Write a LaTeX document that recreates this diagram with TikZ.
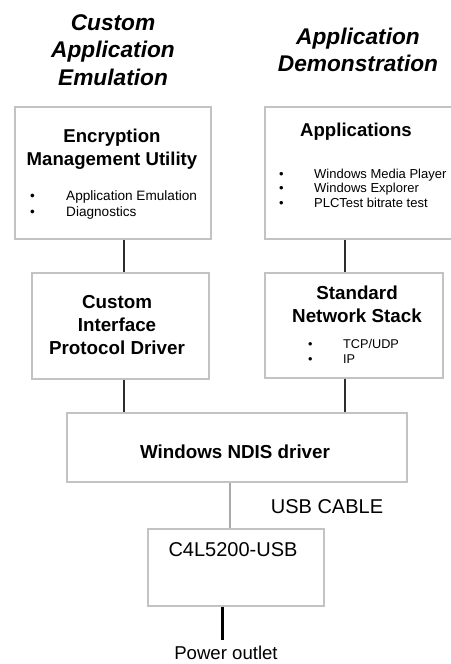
\documentclass[tikz,border=0pt]{standalone}
\usepackage{fontspec}
\setmainfont{Liberation Sans}
\usetikzlibrary{positioning,calc}

\definecolor{boxgray}{RGB}{195,195,195}
\definecolor{linkgray}{RGB}{45,45,45}
\definecolor{cablegray}{RGB}{170,170,170}

\tikzset{
    layer/.style={rectangle, draw=boxgray, line width=1.2pt, inner sep=0pt},
    link/.style={draw=linkgray, line width=1.3pt},
    heading/.style={font=\fontsize{22.7}{27.5}\selectfont\bfseries\itshape, align=center, inner sep=0pt},
    boxtitle/.style={font=\fontsize{18.6}{23.5}\selectfont\bfseries, align=center, inner sep=0pt},
    items/.style={anchor=west, align=left, inner sep=0pt},
    plain/.style={font=\fontsize{20}{24}\selectfont, inner sep=0pt}
}
\newcommand{\itemdot}[1]{\makebox[#1][l]{\textbullet}}

\begin{document}
\begin{tikzpicture}[x=1pt, y=-1pt]
            \useasboundingbox (0,0) rectangle (450,664);
            % Column headings
            \node[heading] (emuhead) at (113,50) {Custom\\Application\\Emulation};
            \node[heading] (demohead) at (358,50) {Application\\Demonstration};
            % Upper layer
            \node[layer, minimum width=196pt, minimum height=132pt] (emu) at (113,173) {};
            \node[layer, minimum width=192pt, minimum height=132pt] (apps) at (361,173) {};
            \node[boxtitle] (emutitle) at (112,149) {Encryption\\Management Utility};
            \node[items, font=\fontsize{13.6}{16}\selectfont] (emulist) at (30,205)
                {\itemdot{36pt}Application Emulation\\\itemdot{36pt}Diagnostics};
            \node[boxtitle] (appstitle) at (356,132) {Applications};
            \node[items, font=\fontsize{13}{14.5}\selectfont] (appslist) at (279,188)
                {\itemdot{35pt}Windows Media Player\\\itemdot{35pt}Windows Explorer\\\itemdot{35pt}PLCTest bitrate test};
            % Driver layer
            \node[layer, minimum width=177pt, minimum height=106pt] (cipd) at (120.5,326) {};
            \node[layer, minimum width=178pt, minimum height=105pt] (stack) at (354,325.5) {};
            \node[boxtitle, font=\fontsize{18.8}{23}\selectfont\bfseries] (cipdtitle) at (117,325) {Custom\\Interface\\Protocol Driver};
            \node[boxtitle, font=\fontsize{18.8}{23}\selectfont\bfseries] (stacktitle) at (357,304) {Standard\\Network Stack};
            \node[items, font=\fontsize{12.7}{15}\selectfont] (stacklist) at (308,351.5)
                {\itemdot{35pt}TCP/UDP\\\itemdot{35pt}IP};
            % NDIS and device
            \node[layer, minimum width=340pt, minimum height=69pt] (ndis) at (237,447.5) {};
            \node[boxtitle, font=\fontsize{18.8}{23}\selectfont\bfseries] (ndistitle) at (235,452) {Windows NDIS driver};
            \node[layer, minimum width=176pt, minimum height=77pt] (usb) at (236,567.5) {};
            \node[plain] (usbtitle) at (233,550) {C4L5200-USB};
            \node[plain] (cablelabel) at (327,507) {USB CABLE};
            \node[plain, font=\fontsize{18.6}{22}\selectfont] (power) at (226,653) {Power outlet};

            \coordinate (lbus) at (124,0);
            \coordinate (rbus) at (345,0);
            \coordinate (cable) at (230,0);
            \coordinate (outlet) at (222,640);

            \draw[link] (lbus |- emu.south) -- (lbus |- cipd.north);
            \draw[link] (lbus |- cipd.south) -- (lbus |- ndis.north);
            \draw[link] (rbus |- apps.south) -- (rbus |- stack.north);
            \draw[link] (rbus |- stack.south) -- (rbus |- ndis.north);

            \draw[draw=cablegray, line width=1.3pt] (cable |- ndis.south) -- (cable |- usb.north);
            \draw[line width=3pt] (outlet |- usb.south) -- (outlet);

        \end{tikzpicture}
\end{document}
